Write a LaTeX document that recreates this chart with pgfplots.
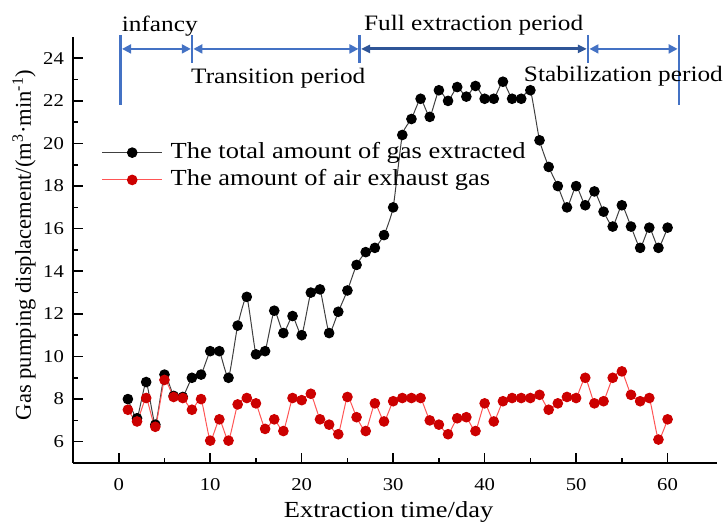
\documentclass[border=0pt]{standalone}
\usepackage{pgfplots}
\pgfplotsset{compat=1.18}
\usepackage{fontspec}
\setmainfont{Liberation Serif}
\usetikzlibrary{arrows.meta}
\definecolor{lblue}{HTML}{4472C4}
\definecolor{dblue}{HTML}{2F5597}
\definecolor{rmark}{HTML}{CC0000}
\definecolor{rline}{HTML}{FF5555}
\definecolor{kline}{HTML}{404040}
\newcommand{\hs}[1]{\scalebox{1.15}[1]{#1}}

\pgfplotstableread{
day val
1 8.0
2 7.1
3 8.8
4 6.8
5 9.15
6 8.15
7 8.1
8 9.0
9 9.15
10 10.25
11 10.25
12 9.0
13 11.45
14 12.8
15 10.1
16 10.25
17 12.15
18 11.1
19 11.9
20 11.0
21 13.0
22 13.15
23 11.1
24 12.1
25 13.1
26 14.3
27 14.9
28 15.1
29 15.7
30 17.0
31 20.4
32 21.15
33 22.1
34 21.25
35 22.5
36 22.0
37 22.65
38 22.2
39 22.7
40 22.1
41 22.1
42 22.9
43 22.1
44 22.1
45 22.5
46 20.15
47 18.9
48 18.0
49 17.0
50 18.0
51 17.1
52 17.75
53 16.8
54 16.1
55 17.1
56 16.1
57 15.1
58 16.05
59 15.1
60 16.05
}\totaltable

\pgfplotstableread{
day val
1 7.5
2 6.95
3 8.05
4 6.7
5 8.9
6 8.1
7 8.05
8 7.5
9 8.0
10 6.05
11 7.05
12 6.05
13 7.75
14 8.05
15 7.8
16 6.6
17 7.05
18 6.5
19 8.05
20 7.95
21 8.25
22 7.05
23 6.8
24 6.35
25 8.1
26 7.15
27 6.5
28 7.8
29 6.95
30 7.9
31 8.05
32 8.05
33 8.05
34 7.0
35 6.8
36 6.35
37 7.1
38 7.15
39 6.5
40 7.8
41 6.95
42 7.9
43 8.05
44 8.05
45 8.05
46 8.2
47 7.5
48 7.8
49 8.1
50 8.05
51 9.0
52 7.8
53 7.9
54 9.0
55 9.3
56 8.2
57 7.9
58 8.05
59 6.1
60 7.05
}\airtable

\begin{document}
\begin{tikzpicture}
\begin{axis}[
  at={(0,0)}, anchor=south west,
  scale only axis, width=322pt, height=213pt,
  xmin=-5, xmax=65.4, ymin=5, ymax=25,
  clip=false,
  axis x line*=bottom, axis y line*=left,
  axis line style={-, line width=0.8pt, black},
  tick align=inside,
  major tick length=5pt, minor tick length=2.5pt,
  every tick/.style={black, line width=0.8pt},
  xtick={0,10,...,60}, ytick={6,8,...,24},
  minor x tick num=1, minor y tick num=1,
  /pgf/number format/assume math mode=true,
  xticklabel={\hs{\pgfmathprintnumber{\tick}}},
  yticklabel={\hs{\pgfmathprintnumber{\tick}}},
  tick label style={font=\fontsize{9}{10}\selectfont},
  xticklabel style={yshift=-4pt},
  yticklabel style={xshift=-1pt},
  xlabel={\hs{Extraction time/day}},
  xlabel style={font=\fontsize{11.5}{13}\selectfont, at={(axis description cs:0.49,0)}, anchor=center, yshift=-24.5pt},
  ylabel={Gas pumping displacement/(m\textsuperscript{3}·min\textsuperscript{-1})},
  ylabel style={font=\fontsize{11.3}{13}\selectfont, at={(axis description cs:-0.076,0.512)}, anchor=center},
  legend style={draw=none, fill=none, at={(axis cs:-1.86,18.93)}, anchor=west, inner sep=0pt, outer sep=0pt,
    row sep=3.15pt, column sep=4pt,
    nodes={inner sep=0pt, text height=8pt, text depth=2.5pt, font=\fontsize{11.5}{13}\selectfont}},
  legend cell align=left,
  legend image code/.code={\draw[mark repeat=2,mark phase=2,#1] plot coordinates {(0pt,0pt) (15pt,0pt) (30pt,0pt)};},
]
\addplot[kline, line width=0.5pt, smooth, tension=0.3, mark=*, mark size=2.4pt,
  mark options={fill=black, draw=black, solid}] table[x=day,y=val] {\totaltable};
\addlegendentry{\hs{The total amount of gas extracted}}
\addplot[rline, line width=0.5pt, smooth, tension=0.3, mark=*, mark size=2.4pt,
  mark options={fill=rmark, draw=rmark, solid}] table[x=day,y=val] {\airtable};
\addlegendentry{\hs{The amount of air exhaust gas}}

% period annotations
\draw[lblue, line width=1.3pt] (axis cs:0.22,25.1) -- (axis cs:0.22,21.8);
\draw[lblue, line width=1.3pt] (axis cs:8.02,25.1) -- (axis cs:8.02,23.77);
\draw[lblue, line width=1.3pt] (axis cs:26.35,25.1) -- (axis cs:26.35,23.77);
\draw[lblue, line width=1.3pt] (axis cs:51.32,25.1) -- (axis cs:51.32,23.77);
\draw[lblue, line width=1.3pt] (axis cs:61.24,25.1) -- (axis cs:61.24,21.8);
\draw[lblue, line width=1pt, {Triangle[length=4.5pt,width=4.5pt]}-{Triangle[length=4.5pt,width=4.5pt]}, shorten <=0.65pt, shorten >=0.65pt] (axis cs:0.22,24.44) -- (axis cs:8.02,24.44);
\draw[lblue, line width=1pt, {Triangle[length=4.5pt,width=4.5pt]}-{Triangle[length=4.5pt,width=4.5pt]}, shorten <=0.65pt, shorten >=0.65pt] (axis cs:8.02,24.44) -- (axis cs:26.35,24.44);
\draw[dblue, line width=1.5pt, {Triangle[length=4.5pt,width=4pt]}-{Triangle[length=4.5pt,width=4pt]}, shorten <=0.65pt, shorten >=0.65pt] (axis cs:26.35,24.44) -- (axis cs:51.32,24.44);
\draw[lblue, line width=1pt, {Triangle[length=4.5pt,width=4.5pt]}-{Triangle[length=4.5pt,width=4.5pt]}, shorten <=0.65pt, shorten >=0.65pt] (axis cs:51.32,24.44) -- (axis cs:61.24,24.44);
\node[anchor=base, inner sep=0pt, font=\fontsize{11}{13}\selectfont] at (axis cs:4.48,25.25) {\hs{infancy}};
\node[anchor=base, inner sep=0pt, font=\fontsize{11}{13}\selectfont] at (axis cs:38.8,25.3) {\hs{Full extraction period}};
\node[anchor=base, inner sep=0pt, font=\fontsize{11}{13}\selectfont] at (axis cs:17.44,22.84) {\hs{Transition period}};
\node[anchor=base, inner sep=0pt, font=\fontsize{11}{13}\selectfont] at (axis cs:55.17,22.9) {\hs{Stabilization period}};
\end{axis}
\pgfresetboundingbox
\path (-36.5pt,-30.5pt) rectangle (326pt,231.5pt);
\end{tikzpicture}
\end{document}
